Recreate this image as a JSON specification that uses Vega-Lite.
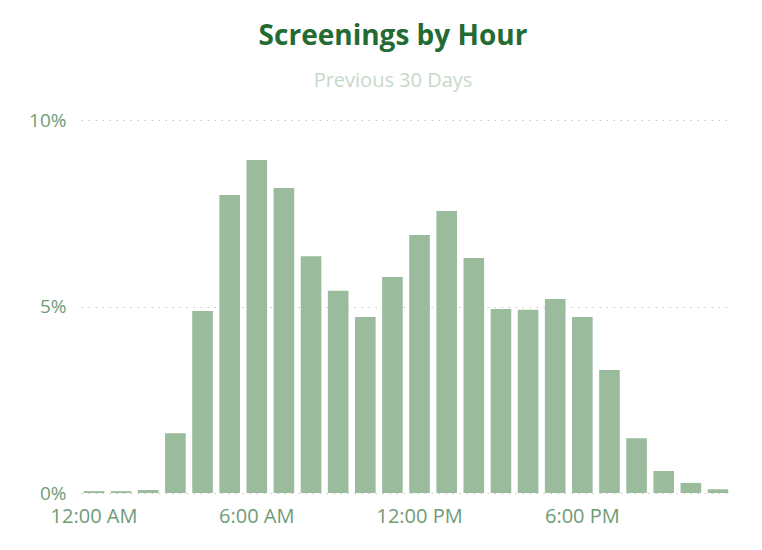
{
  "$schema": "https://vega.github.io/schema/vega-lite/v6.json",
  "autosize": "none",
  "width": 650,
  "height": 373,
  "padding": {"left": 81, "top": 120, "right": 31, "bottom": 57},
  "background": "white",
  "title": {
    "text": "Screenings by Hour",
    "subtitle": "Previous 30 Days",
    "anchor": "middle",
    "dx": -13,
    "offset": 20,
    "subtitlePadding": 20,
    "font": "Open Sans",
    "fontSize": 28,
    "fontWeight": "bold",
    "color": "#236B32",
    "subtitleFont": "Open Sans",
    "subtitleFontSize": 20,
    "subtitleColor": "#C7D9C8"
  },
  "data": {
    "values": [
      {"hour": 0, "share": 0.0005},
      {"hour": 1, "share": 0.0005},
      {"hour": 2, "share": 0.0008},
      {"hour": 3, "share": 0.016},
      {"hour": 4, "share": 0.0488},
      {"hour": 5, "share": 0.0799},
      {"hour": 6, "share": 0.0893},
      {"hour": 7, "share": 0.0818},
      {"hour": 8, "share": 0.0635},
      {"hour": 9, "share": 0.0542},
      {"hour": 10, "share": 0.0472},
      {"hour": 11, "share": 0.0579},
      {"hour": 12, "share": 0.0692},
      {"hour": 13, "share": 0.0756},
      {"hour": 14, "share": 0.063},
      {"hour": 15, "share": 0.0493},
      {"hour": 16, "share": 0.0491},
      {"hour": 17, "share": 0.052},
      {"hour": 18, "share": 0.0472},
      {"hour": 19, "share": 0.033},
      {"hour": 20, "share": 0.0147},
      {"hour": 21, "share": 0.0059},
      {"hour": 22, "share": 0.0027},
      {"hour": 23, "share": 0.001}
    ]
  },
  "mark": {"type": "bar", "color": "#9BBB9D"},
  "encoding": {
    "x": {
      "field": "hour",
      "type": "ordinal",
      "scale": {"paddingInner": 0.24, "paddingOuter": 0.1},
      "axis": {
        "title": null,
        "values": [0, 6, 12, 18],
        "labelExpr": "datum.value == 0 ? '12:00 AM' : datum.value == 6 ? '6:00 AM' : datum.value == 12 ? '12:00 PM' : '6:00 PM'",
        "labelAngle": 0,
        "labelFont": "Open Sans",
        "labelFontSize": 20,
        "labelColor": "#6E9C76",
        "labelPadding": 13,
        "ticks": false,
        "domain": false
      }
    },
    "y": {
      "field": "share",
      "type": "quantitative",
      "scale": {"domain": [0, 0.1]},
      "axis": {
        "title": null,
        "values": [0, 0.05, 0.1],
        "format": ".0%",
        "labelFont": "Open Sans",
        "labelFontSize": 19,
        "labelColor": "#6E9C76",
        "labelPadding": 15,
        "ticks": false,
        "domain": false,
        "grid": true,
        "gridColor": "#C4C4C4",
        "gridDash": [1.5, 5.5],
        "gridWidth": 1
      }
    }
  },
  "config": {"view": {"stroke": null}}
}
